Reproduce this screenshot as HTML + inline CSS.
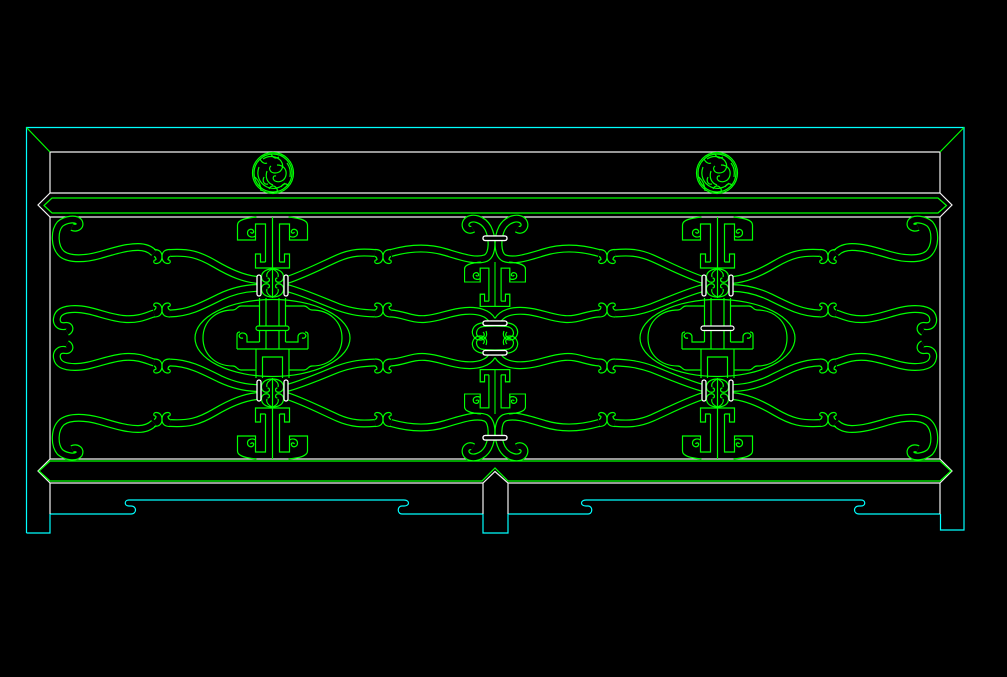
<!DOCTYPE html>
<html>
<head>
<meta charset="utf-8">
<style>
html,body{margin:0;padding:0;background:#000;width:1007px;height:677px;overflow:hidden}
svg{display:block}
</style>
</head>
<body>
<svg width="1007" height="677" viewBox="0 0 1007 677" xmlns="http://www.w3.org/2000/svg">
<rect width="1007" height="677" fill="#000"/>
<defs>
  <g id="bands">
    <path d="M72,227 C77,229 81,226 79,222 C76,218 66,219 60,224 C54,231 54,247 62,254 C70,260 86,259 100,255 C114,251 126,247 138,247 C146,247 151,250 154,253"/>
    <path d="M170,253 C188,252 198,254 215,264 C232,274 245,279 258,280"/>
    <path d="M67,332 C71,330 70,325 65,326 C59,327 56,323 57,318 C58,312 64,309 75,309 C92,309 108,318 125,319 C140,320 148,315 154,313.5"/>
    <path d="M170,313.5 C188,313 200,307 220,297 C235,290 247,288 258,288"/>
    <path d="M287,280 C305,274 320,266 338,258 C352,252 362,252 375,253"/>
    <path d="M287,288 C305,293 320,300 338,307 C352,312 362,313 375,313.5"/>
    <path d="M391,253 C405,249 425,246 445,252 C462,257 476,262 486,258 C493,254 493,238 488,228 C483,219 472,216 467,221 C463,226 468,232 473,229"/>
    <path d="M391,313.5 C403,314 412,320 425,319 C440,318 450,312 465,311 C478,310 488,313 492,320"/>
  </g>
  <g id="sp">
    <path d="M-8,-7 C-2,-7 0,-4 0,0 C0,4 -2,7 -6,7 C-9,7 -9,3 -6,3.5"/>
    <path d="M8,-7 C2,-7 0,-4 0,0 C0,4 2,7 6,7 C9,7 9,3 6,3.5"/>
    <path d="M-8,0 C-6.5,0.5 -6,2 -6,3.5"/>
    <path d="M8,0 C6.5,0.5 6,2 6,3.5"/>
  </g>
  <g id="Th">
    <path d="M-7,45 L-7,7 L-17,7 L-17,23 L-35,23 L-35,8 C-35,3 -27,1 -16,0"/>
    <path d="M-17,19 C-20,21 -25,20 -25,16 C-25,12 -20,11 -19,14 C-18,16 -21,17 -22,15"/>
    <path d="M-7,45 L-12,45 L-12,37 L-17,37 L-17,51 L0,51"/>
  </g>
  <g id="T">
    <use href="#Th"/>
    <use href="#Th" transform="scale(-1,1)"/>
    <path d="M0,0 V51"/>
  </g>
  <g id="kq">
    <path d="M272.5,269 C266,269 261.5,272 261.5,277 C261.5,281 265,283 268,282 C270,281 270,278 267.5,278"/>
    <path d="M272.5,269 C268,271 266,274 267,277"/>
  </g>
  <g id="thin">
    <use href="#sp" transform="translate(162,256.5)"/>
    <use href="#sp" transform="translate(162,310) scale(1,-1)"/>
    <use href="#sp" transform="translate(383,256.5)"/>
    <use href="#sp" transform="translate(383,310) scale(1,-1)"/>
    <use href="#T" transform="translate(272.5,217)"/>
    <use href="#T" transform="translate(495,262) scale(0.87)"/>
    <use href="#kq"/>
    <use href="#kq" transform="matrix(-1,0,0,1,545,0)"/>
    <use href="#kq" transform="matrix(1,0,0,-1,0,566)"/>
    <use href="#kq" transform="matrix(-1,0,0,-1,545,566)"/>
    <path d="M272.5,268 V298"/>
    <path d="M495,326 C490,326 485,326 481,327 C476,329 475,335 479,337 C483,339 486,335 483,332"/>
    <path d="M492,322.5 C486,322.5 478,322 474,327 C470,333 474,340 480,340 C485,340 488,336 486,331"/>
  </g>
  <g id="clips">
    <rect x="257" y="275" width="4" height="21" rx="2"/>
    <rect x="284" y="275" width="4" height="21" rx="2"/>
    <rect x="483" y="236" width="24" height="4.5" rx="2.2"/>
    <rect x="483" y="321" width="24" height="4.5" rx="2.2"/>
  </g>
  <g id="col">
    <ellipse cx="272.5" cy="338" rx="77.5" ry="38.5"/>
    <path d="M259.5,306 L241,306 C237,306 237,310 233,310 C215,310 203,322 203,338 C203,354 215,366 233,366 C237,366 237,370 241,370 L256,370"/>
    <path d="M285.5,306 L304,306 C308,306 308,310 312,310 C330,310 342,322 342,338 C342,354 330,366 312,366 C308,366 308,370 304,370 L289,370"/>
    <path d="M259.5,298 V342 M285.5,298 V342 M266,298 V349 M279,298 V349"/>
    <path d="M259.5,342 H247 V337 C247,333 242,332 240,334 C238,336 240,339 243,338"/>
    <path d="M237,349 V335 C237,333 238,332 240,332"/>
    <path d="M237,349 H308"/>
    <path d="M285.5,342 H298 V337 C298,333 303,332 305,334 C307,336 305,339 302,338"/>
    <path d="M308,349 V335 C308,333 307,332 305,332"/>
    <path d="M256,349 V378 M289,349 V378 M262.5,378 V357 H282.5 V378"/>
  </g>
  <g id="med">
    <circle r="20.5"/>
    <circle r="19"/>
    <path d="M-10,-14 C-4,-18 4,-17 8,-12 C12,-6 8,0 2,0 C-3,0 -5,-5 -2,-7"/>
    <path d="M-14,-6 C-17,2 -14,10 -6,14 C0,17 8,15 12,10"/>
    <path d="M4,-8 C10,-8 14,-4 13,2 C12,8 6,10 2,8 C-1,6 0,2 3,3"/>
    <path d="M-6,-2 C-8,4 -6,10 0,12"/>
    <path d="M-18,4 C-14,8 -12,12 -12,18"/>
    <path d="M14,-10 C17,-6 18,-2 17,4"/>
    <path d="M-4,16 C-2,12 2,12 4,16 C5,18 3,20 1,19"/>
    <path d="M8,14 C10,10 14,10 15,13"/>
    <path d="M-13,-14 C-11,-10 -8,-9 -6,-10"/>
    <path d="M-2,-19 C0,-15 3,-14 6,-16"/>
    <path d="M-9,4 C-11,8 -9,12 -5,11"/>
  </g>
</defs>

<g fill="none" stroke="#00ffff" stroke-width="1.2">
  <path d="M26.5,533 V127.5 H964 V530 H940.5 V514"/>
  <path d="M26.5,533 H50 V514"/>
  <path d="M483,514 V533 H508 V514"/>
  <path d="M50,514 H131 C137,514 137,506 131,506 H129 C124,506 124,500 129,500 H404 C410,500 410,506 404,506 H402 C397,506 397,514 402,514 H483"/>
  <path d="M940,514 H859 C853,514 853,506 859,506 H861 C866,506 866,500 861,500 H586 C580,500 580,506 586,506 H588 C593,506 593,514 588,514 H508"/>
</g>
<g fill="none" stroke="#f4f4f4" stroke-width="1.2">
  <path d="M50,152 H940 M50,152 V193 M940,152 V193 M50,193 H940 M50,217 H940"/>
  <path d="M50,193 L38,205 L50,217 M940,193 L952,205 L940,217"/>
  <path d="M50,217 V459 M940,217 V459 M50,459 H940"/>
  <path d="M50,459 L38,471 L50,483 M940,459 L952,471 L940,483"/>
  <path d="M50,483 H483 L495,471.5 L508,483 H940"/>
  <path d="M50,483 V514 M940,483 V514 M483,483 V514 M508,483 V514"/>
</g>
<g fill="none" stroke="#00ff00" stroke-width="1.2">
  <path d="M26.5,127.5 L50,152 M964,127.5 L940,152"/>
  <path d="M52,198 H938 L946.5,205.5 L938,213 H52 L44,205.5 Z"/>
  <path d="M50,461 H940 L951,471 L940,481 H508 L495,468 L482,481 H50 L39,471 Z"/>
</g>

<g fill="none" stroke="#00ff00" stroke-width="8" stroke-linejoin="round">
  <use href="#bands"/>
  <use href="#bands" transform="matrix(-1,0,0,1,990,0)"/>
  <use href="#bands" transform="matrix(1,0,0,-1,0,676)"/>
  <use href="#bands" transform="matrix(-1,0,0,-1,990,676)"/>
</g>
<g fill="none" stroke="#000" stroke-width="5.6" stroke-linejoin="round">
  <use href="#bands"/>
  <use href="#bands" transform="matrix(-1,0,0,1,990,0)"/>
  <use href="#bands" transform="matrix(1,0,0,-1,0,676)"/>
  <use href="#bands" transform="matrix(-1,0,0,-1,990,676)"/>
</g>

<g fill="none" stroke="#00ff00" stroke-width="1.2">
  <use href="#thin"/>
  <use href="#thin" transform="matrix(-1,0,0,1,990,0)"/>
  <use href="#thin" transform="matrix(1,0,0,-1,0,676)"/>
  <use href="#thin" transform="matrix(-1,0,0,-1,990,676)"/>
  <use href="#col"/>
  <use href="#col" transform="translate(445,0)"/>
  <use href="#med" transform="translate(273,173)"/>
  <use href="#med" transform="translate(717,173)"/>
</g>

<rect x="256" y="326" width="33" height="4.5" rx="2.2" fill="#000" stroke="#00ff00" stroke-width="1.2"/>
<rect x="701" y="326" width="33" height="4.5" rx="2.2" fill="#000" stroke="#ffffff" stroke-width="1.2"/>

<g fill="#000" stroke="#ffffff" stroke-width="1.3">
  <use href="#clips"/>
  <use href="#clips" transform="matrix(-1,0,0,1,990,0)"/>
  <use href="#clips" transform="matrix(1,0,0,-1,0,676)"/>
  <use href="#clips" transform="matrix(-1,0,0,-1,990,676)"/>
</g>
</svg>
</body>
</html>
